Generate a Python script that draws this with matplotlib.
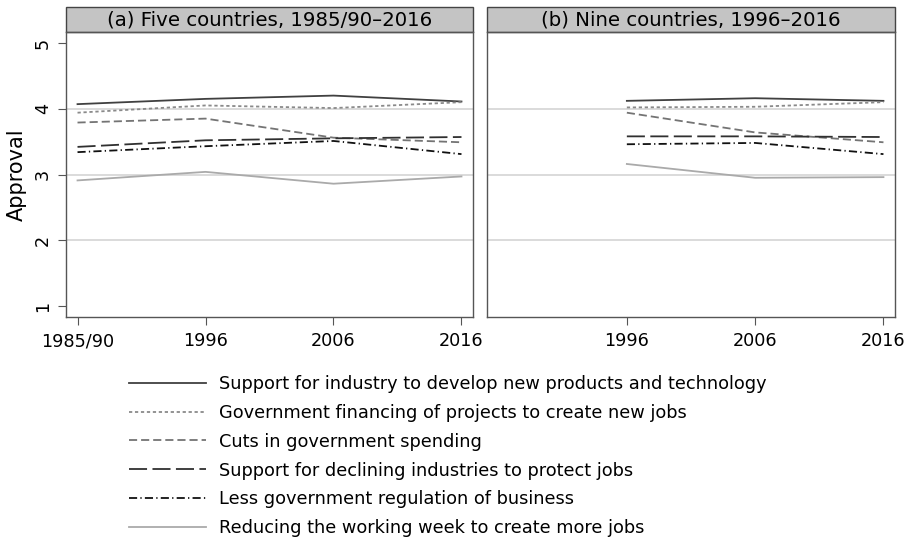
import matplotlib
matplotlib.use("Agg")
import matplotlib.pyplot as plt
from matplotlib.patches import Rectangle
import numpy as np

# data
waves_a = ["1985/90", "1996", "2006", "2016"]
waves_b = ["1996", "2006", "2016"]

labels = [
    "Support for industry to develop new products and technology",
    "Government financing of projects to create new jobs",
    "Cuts in government spending",
    "Support for declining industries to protect jobs",
    "Less government regulation of business",
    "Reducing the working week to create more jobs",
]

industry_a = [4.07, 4.15, 4.20, 4.11]
financing_a = [3.94, 4.05, 4.01, 4.10]
cuts_a = [3.79, 3.85, 3.56, 3.49]
declining_a = [3.42, 3.52, 3.55, 3.57]
regulation_a = [3.34, 3.43, 3.51, 3.31]
week_a = [2.91, 3.04, 2.86, 2.97]

industry_b = [4.12, 4.16, 4.12]
financing_b = [4.02, 4.03, 4.10]
cuts_b = [3.94, 3.64, 3.49]
declining_b = [3.58, 3.58, 3.57]
regulation_b = [3.46, 3.48, 3.31]
week_b = [3.16, 2.95, 2.96]

styles = [
    dict(color="#404040", linestyle="-", linewidth=1.3),
    dict(color="#8a8a8a", linestyle=(0, (1.8, 1.5)), linewidth=1.3),
    dict(color="#747474", linestyle=(0, (4.5, 2.2)), linewidth=1.3),
    dict(color="#303030", linestyle=(0, (10, 3)), linewidth=1.3),
    dict(color="#111111", linestyle=(0, (4.5, 1.8, 0.7, 1.8)), linewidth=1.3),
    dict(color="#aaaaaa", linestyle="-", linewidth=1.3),
]

plt.rcParams['font.family'] = ['DejaVu Sans']

fig = plt.figure(figsize=(9.11, 5.44), dpi=100)
ax1 = fig.add_axes([66/911, 1-317/544, 407/911, 285/544])
ax2 = fig.add_axes([487/911, 1-317/544, 408/911, 285/544])

series_a = [industry_a, financing_a, cuts_a, declining_a, regulation_a, week_a]
series_b = [industry_b, financing_b, cuts_b, declining_b, regulation_b, week_b]

xa = np.arange(len(waves_a))
xb = np.arange(1, len(waves_b) + 1)

handles = []
for vals, st, lab in zip(series_a, styles, labels):
    h, = ax1.plot(xa, vals, label=lab, **st)
    handles.append(h)
for vals, st in zip(series_b, styles):
    ax2.plot(xb, vals, **st)

titles = ["(a) Five countries, 1985/90\u20132016", "(b) Nine countries, 1996\u20132016"]
for ax, title in zip([ax1, ax2], titles):
    ax.set_xlim(-0.09, 3.09)
    ax.set_ylim(0.833, 5.167)
    ax.set_xticks(xa)
    ax.set_xticklabels(waves_a, fontsize=12.7)
    for y in [2, 3, 4]:
        ax.axhline(y, color="#d4d4d4", linewidth=1.2, zorder=0)
    for sp in ax.spines.values():
        sp.set_color("#555555")
        sp.set_linewidth(1.0)
    ax.tick_params(axis="x", length=6, color="#555555", pad=5)
    # grey strip on top
    strip_h = 25 / 285
    ax.add_patch(Rectangle((0, 1), 1, strip_h, transform=ax.transAxes,
                           facecolor="#c4c4c4", edgecolor="#444444",
                           linewidth=1.0, clip_on=False))
    ax.text(0.5, 1 + strip_h / 2, title, transform=ax.transAxes,
            ha="center", va="center", fontsize=14.2)

ax2.set_xticks(xb)
ax2.set_xticklabels(waves_b, fontsize=12.7)

ax1.set_yticks([1, 2, 3, 4, 5])
ax1.set_yticklabels(["1", "2", "3", "4", "5"], rotation=90, va="center", fontsize=12.7)
ax1.tick_params(axis="y", length=6, color="#555555", pad=4)
ax1.set_ylabel("Approval", fontsize=15, labelpad=5)
ax2.set_yticks([])

fig.legend(handles=handles, labels=labels, loc="upper left",
           bbox_to_anchor=(129/911, 1-375/544), frameon=False,
           fontsize=12.8, handlelength=4.33, handletextpad=0.73,
           labelspacing=0.61, borderaxespad=0, borderpad=0)

fig.savefig("out.png", dpi=100)
